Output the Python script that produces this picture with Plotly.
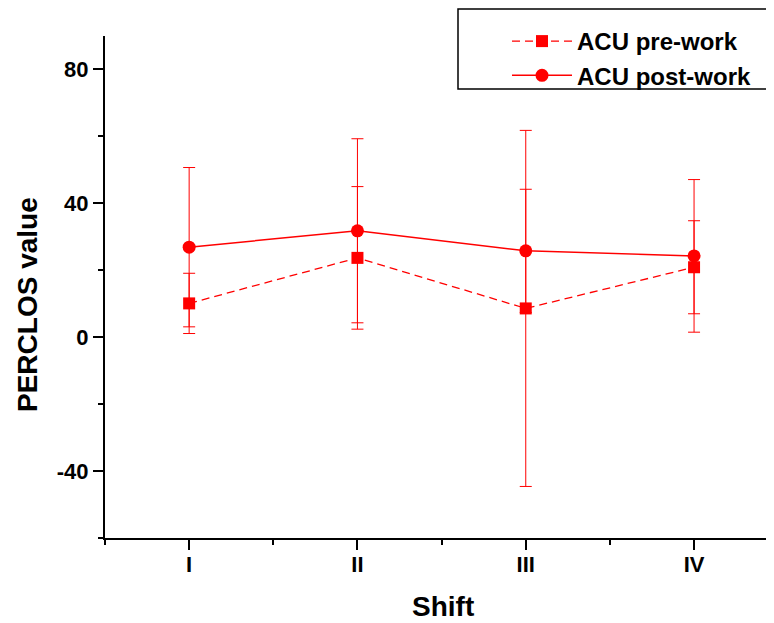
import plotly.graph_objects as go

shifts = ["I", "II", "III", "IV"]
shift_pos = [1, 2, 3, 4]
pre_mean = [10.1, 23.7, 8.6, 20.9]
pre_err = [9.0, 21.3, 53.2, 13.9]
post_mean = [26.9, 31.8, 25.8, 24.3]
post_err = [23.8, 27.5, 18.4, 22.8]

y_ticks = [-40, 0, 40, 80]
y_ticktext = ["-40", "0", "40", "80"]
y_minor = [-60, -20, 20, 60]
x_minor = [0.5, 1.5, 2.5, 3.5]

RED = "#ff0000"
FONT = "Liberation Sans, Arial, sans-serif"

# page body has an 8px margin, so the figure is drawn 8px smaller and offset
W, H = 766, 615
L, T, B = 97, 28, 85
PW, PH = W - L, H - T - B


def px_x(x):
    return (x - L) / PW


def px_y(y):
    return (H - B - y) / PH


fig = go.Figure()
fig.add_trace(go.Scatter(
    x=shift_pos, y=pre_mean, name="ACU pre-work", mode="lines+markers",
    line=dict(color=RED, width=1.3, dash="8px,5px"),
    marker=dict(symbol="square", size=12, color=RED),
    error_y=dict(type="data", array=pre_err, visible=True, color=RED, thickness=1, width=6),
))
fig.add_trace(go.Scatter(
    x=shift_pos, y=post_mean, name="ACU post-work", mode="lines+markers",
    line=dict(color=RED, width=1.5),
    marker=dict(symbol="circle", size=13, color=RED),
    error_y=dict(type="data", array=post_err, visible=True, color=RED, thickness=1, width=6),
))

fig.update_layout(
    width=W, height=H,
    margin=dict(l=L, r=0, t=T, b=B),
    paper_bgcolor="white", plot_bgcolor="white",
    font=dict(family=FONT, color="black"),
    showlegend=True,
    legend=dict(
        x=px_x(499), y=px_y(11), xanchor="left", yanchor="top",
        bgcolor="rgba(0,0,0,0)", borderwidth=0,
        font=dict(family=FONT, size=24, color="black", weight="bold"),
        itemwidth=60, tracegroupgap=0,
    ),
    xaxis=dict(
        range=[0.5, 4.475], tickvals=shift_pos, ticktext=shifts,
        showgrid=False, zeroline=False, showline=True, linecolor="black", linewidth=2,
        ticks="outside", ticklen=10, tickwidth=2, tickcolor="black",
        ticklabelstandoff=-4,
        tickfont=dict(family=FONT, size=22, color="black", weight="bold"),
        minor=dict(tickvals=x_minor, ticks="outside", ticklen=5, tickwidth=2, tickcolor="black"),
    ),
    yaxis=dict(
        range=[-60, 90], tickvals=y_ticks, ticktext=y_ticktext,
        showgrid=False, zeroline=False, showline=True, linecolor="black", linewidth=2,
        ticks="outside", ticklen=10, tickwidth=2, tickcolor="black",
        tickfont=dict(family=FONT, size=22, color="black", weight="bold"),
        minor=dict(tickvals=y_minor, ticks="outside", ticklen=5, tickwidth=2, tickcolor="black"),
    ),
    shapes=[dict(type="rect", xref="paper", yref="paper",
                 x0=px_x(450), x1=px_x(790), y0=px_y(81), y1=px_y(1),
                 line=dict(color="black", width=1.5), fillcolor="rgba(0,0,0,0)")],
    annotations=[
        dict(text="Shift", xref="paper", yref="paper", x=px_x(435), y=px_y(599),
             xanchor="center", yanchor="middle", showarrow=False,
             font=dict(family=FONT, size=28, color="black", weight="bold")),
        dict(text="PERCLOS value", xref="paper", yref="paper", x=px_x(19), y=px_y(297),
             xanchor="center", yanchor="middle", showarrow=False, textangle=-90,
             font=dict(family=FONT, size=28, color="black", weight="bold")),
    ],
)

fig.write_html("out.html")
